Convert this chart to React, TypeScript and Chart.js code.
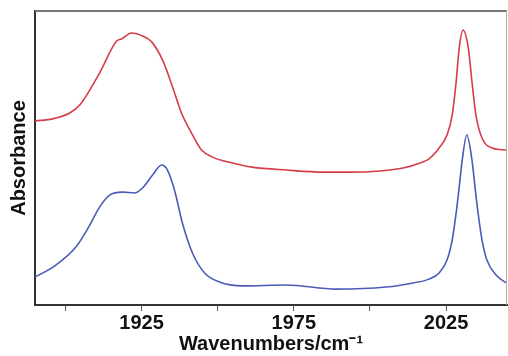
import React, { useEffect, useRef } from "react";
import { Chart, registerables } from "chart.js";

Chart.register(...registerables);

const redWavenumbers = [1890, 1895.8, 1901.4, 1904.7, 1911.2, 1916.8, 1918.4, 1921.7, 1925.3, 1928.3, 1931.9, 1935.2, 1938.1, 1941.4, 1944.7, 1948.3, 1954.8, 1961.3, 1972.5, 1984.7, 1993.5, 2003.4, 2010.9, 2016.5, 2019.4, 2022.7, 2025.3, 2027.0, 2028.3, 2029.3, 2030.6, 2032.3, 2033.5, 2034.8, 2036.8, 2040.1, 2044.7];
const redAbsorbance = [0.626, 0.633, 0.653, 0.68, 0.789, 0.898, 0.905, 0.925, 0.915, 0.895, 0.833, 0.741, 0.653, 0.585, 0.527, 0.503, 0.483, 0.469, 0.459, 0.452, 0.452, 0.456, 0.466, 0.483, 0.497, 0.534, 0.578, 0.646, 0.759, 0.874, 0.935, 0.874, 0.759, 0.646, 0.568, 0.534, 0.527];

const blueWavenumbers = [1890, 1896.5, 1903.7, 1908.0, 1911.2, 1914.5, 1918.8, 1922.7, 1925.3, 1928.6, 1931.6, 1933.5, 1935.8, 1938.4, 1941.7, 1945.7, 1950.6, 1958.1, 1972.5, 1988.9, 2005.3, 2014.2, 2019.4, 2022.7, 2025.3, 2027.0, 2028.3, 2029.3, 2030.3, 2031.8, 2033.5, 2034.5, 2035.5, 2036.8, 2038.4, 2041.4, 2044.7];
const blueAbsorbance = [0.095, 0.133, 0.201, 0.272, 0.333, 0.374, 0.384, 0.381, 0.398, 0.442, 0.476, 0.459, 0.391, 0.279, 0.177, 0.109, 0.078, 0.065, 0.068, 0.054, 0.061, 0.075, 0.088, 0.109, 0.153, 0.221, 0.313, 0.401, 0.493, 0.578, 0.493, 0.401, 0.313, 0.221, 0.153, 0.102, 0.075];

const tickValues = [1900, 1925, 1950, 1975, 2000, 2025];
const labeledTicks = [1925, 1975, 2025];

const FONT = "'Liberation Sans', Arial, Helvetica, sans-serif";

const boxPlugin = {
  id: "boxLines",
  afterDraw(chart: any) {
    const { ctx, chartArea } = chart;
    ctx.save();
    ctx.strokeStyle = "#777777";
    ctx.lineWidth = 2;
    ctx.beginPath();
    ctx.moveTo(chartArea.left, chartArea.top);
    ctx.lineTo(chartArea.right, chartArea.top);
    ctx.stroke();
    ctx.strokeStyle = "#b0b0b0";
    ctx.lineWidth = 1;
    ctx.beginPath();
    ctx.moveTo(chartArea.right - 0.5, chartArea.top);
    ctx.lineTo(chartArea.right - 0.5, chartArea.bottom);
    ctx.stroke();
    ctx.restore();
  },
};

export default function App() {
  const canvasRef = useRef<HTMLCanvasElement | null>(null);

  useEffect(() => {
    if (!canvasRef.current) return;
    const chart = new Chart(canvasRef.current, {
      type: "line",
      data: {
        datasets: [
          {
            label: "Red",
            data: redWavenumbers.map((x, i) => ({ x, y: redAbsorbance[i] })),
            borderColor: "#d63c4a",
            borderWidth: 1.6,
            pointRadius: 0,
            cubicInterpolationMode: "monotone",
            fill: false,
          },
          {
            label: "Blue",
            data: blueWavenumbers.map((x, i) => ({ x, y: blueAbsorbance[i] })),
            borderColor: "#4a5bb8",
            borderWidth: 1.6,
            pointRadius: 0,
            cubicInterpolationMode: "monotone",
            fill: false,
          },
        ],
      },
      options: {
        animation: false,
        responsive: false,
        maintainAspectRatio: false,
        layout: { padding: { top: 11, right: 1, left: 0, bottom: 0 } },
        plugins: { legend: { display: false }, tooltip: { enabled: false } },
        scales: {
          x: {
            type: "linear",
            min: 1890,
            max: 2045,
            afterBuildTicks: (scale: any) => {
              scale.ticks = tickValues.map((v) => ({ value: v }));
            },
            afterFit: (scale: any) => {
              scale.height = 51;
            },
            ticks: {
              autoSkip: false,
              maxRotation: 0,
              padding: 0,
              color: "#111111",
              font: { family: FONT, size: 20, weight: "bold" },
              callback: (v: any) => (labeledTicks.includes(Number(v)) ? String(v) : ""),
            },
            grid: {
              drawOnChartArea: false,
              drawTicks: true,
              tickLength: 6,
              color: "#555555",
              lineWidth: 1,
            },
            border: { display: true, color: "#333333", width: 2 },
            title: {
              display: true,
              text: "Wavenumbers/cm⁻¹",
              color: "#111111",
              font: { family: FONT, size: 20, weight: "bold" },
              padding: { top: 0, bottom: 0 },
            },
          },
          y: {
            type: "linear",
            min: 0,
            max: 1,
            afterFit: (scale: any) => {
              scale.width = 35;
            },
            ticks: { display: false },
            grid: { display: false, drawTicks: false },
            border: { display: true, color: "#333333", width: 2 },
            title: {
              display: true,
              text: "Absorbance",
              color: "#111111",
              font: { family: FONT, size: 20, weight: "bold" },
              padding: { top: 7, bottom: 0 },
            },
          },
        },
      },
      plugins: [boxPlugin],
    } as any);
    return () => chart.destroy();
  }, []);

  return (
    <div style={{ position: "fixed", left: 0, top: 0, width: 508, height: 356, background: "#ffffff" }}>
      <canvas ref={canvasRef} width={508} height={356} style={{ width: 508, height: 356, display: "block" }} />
    </div>
  );
}
